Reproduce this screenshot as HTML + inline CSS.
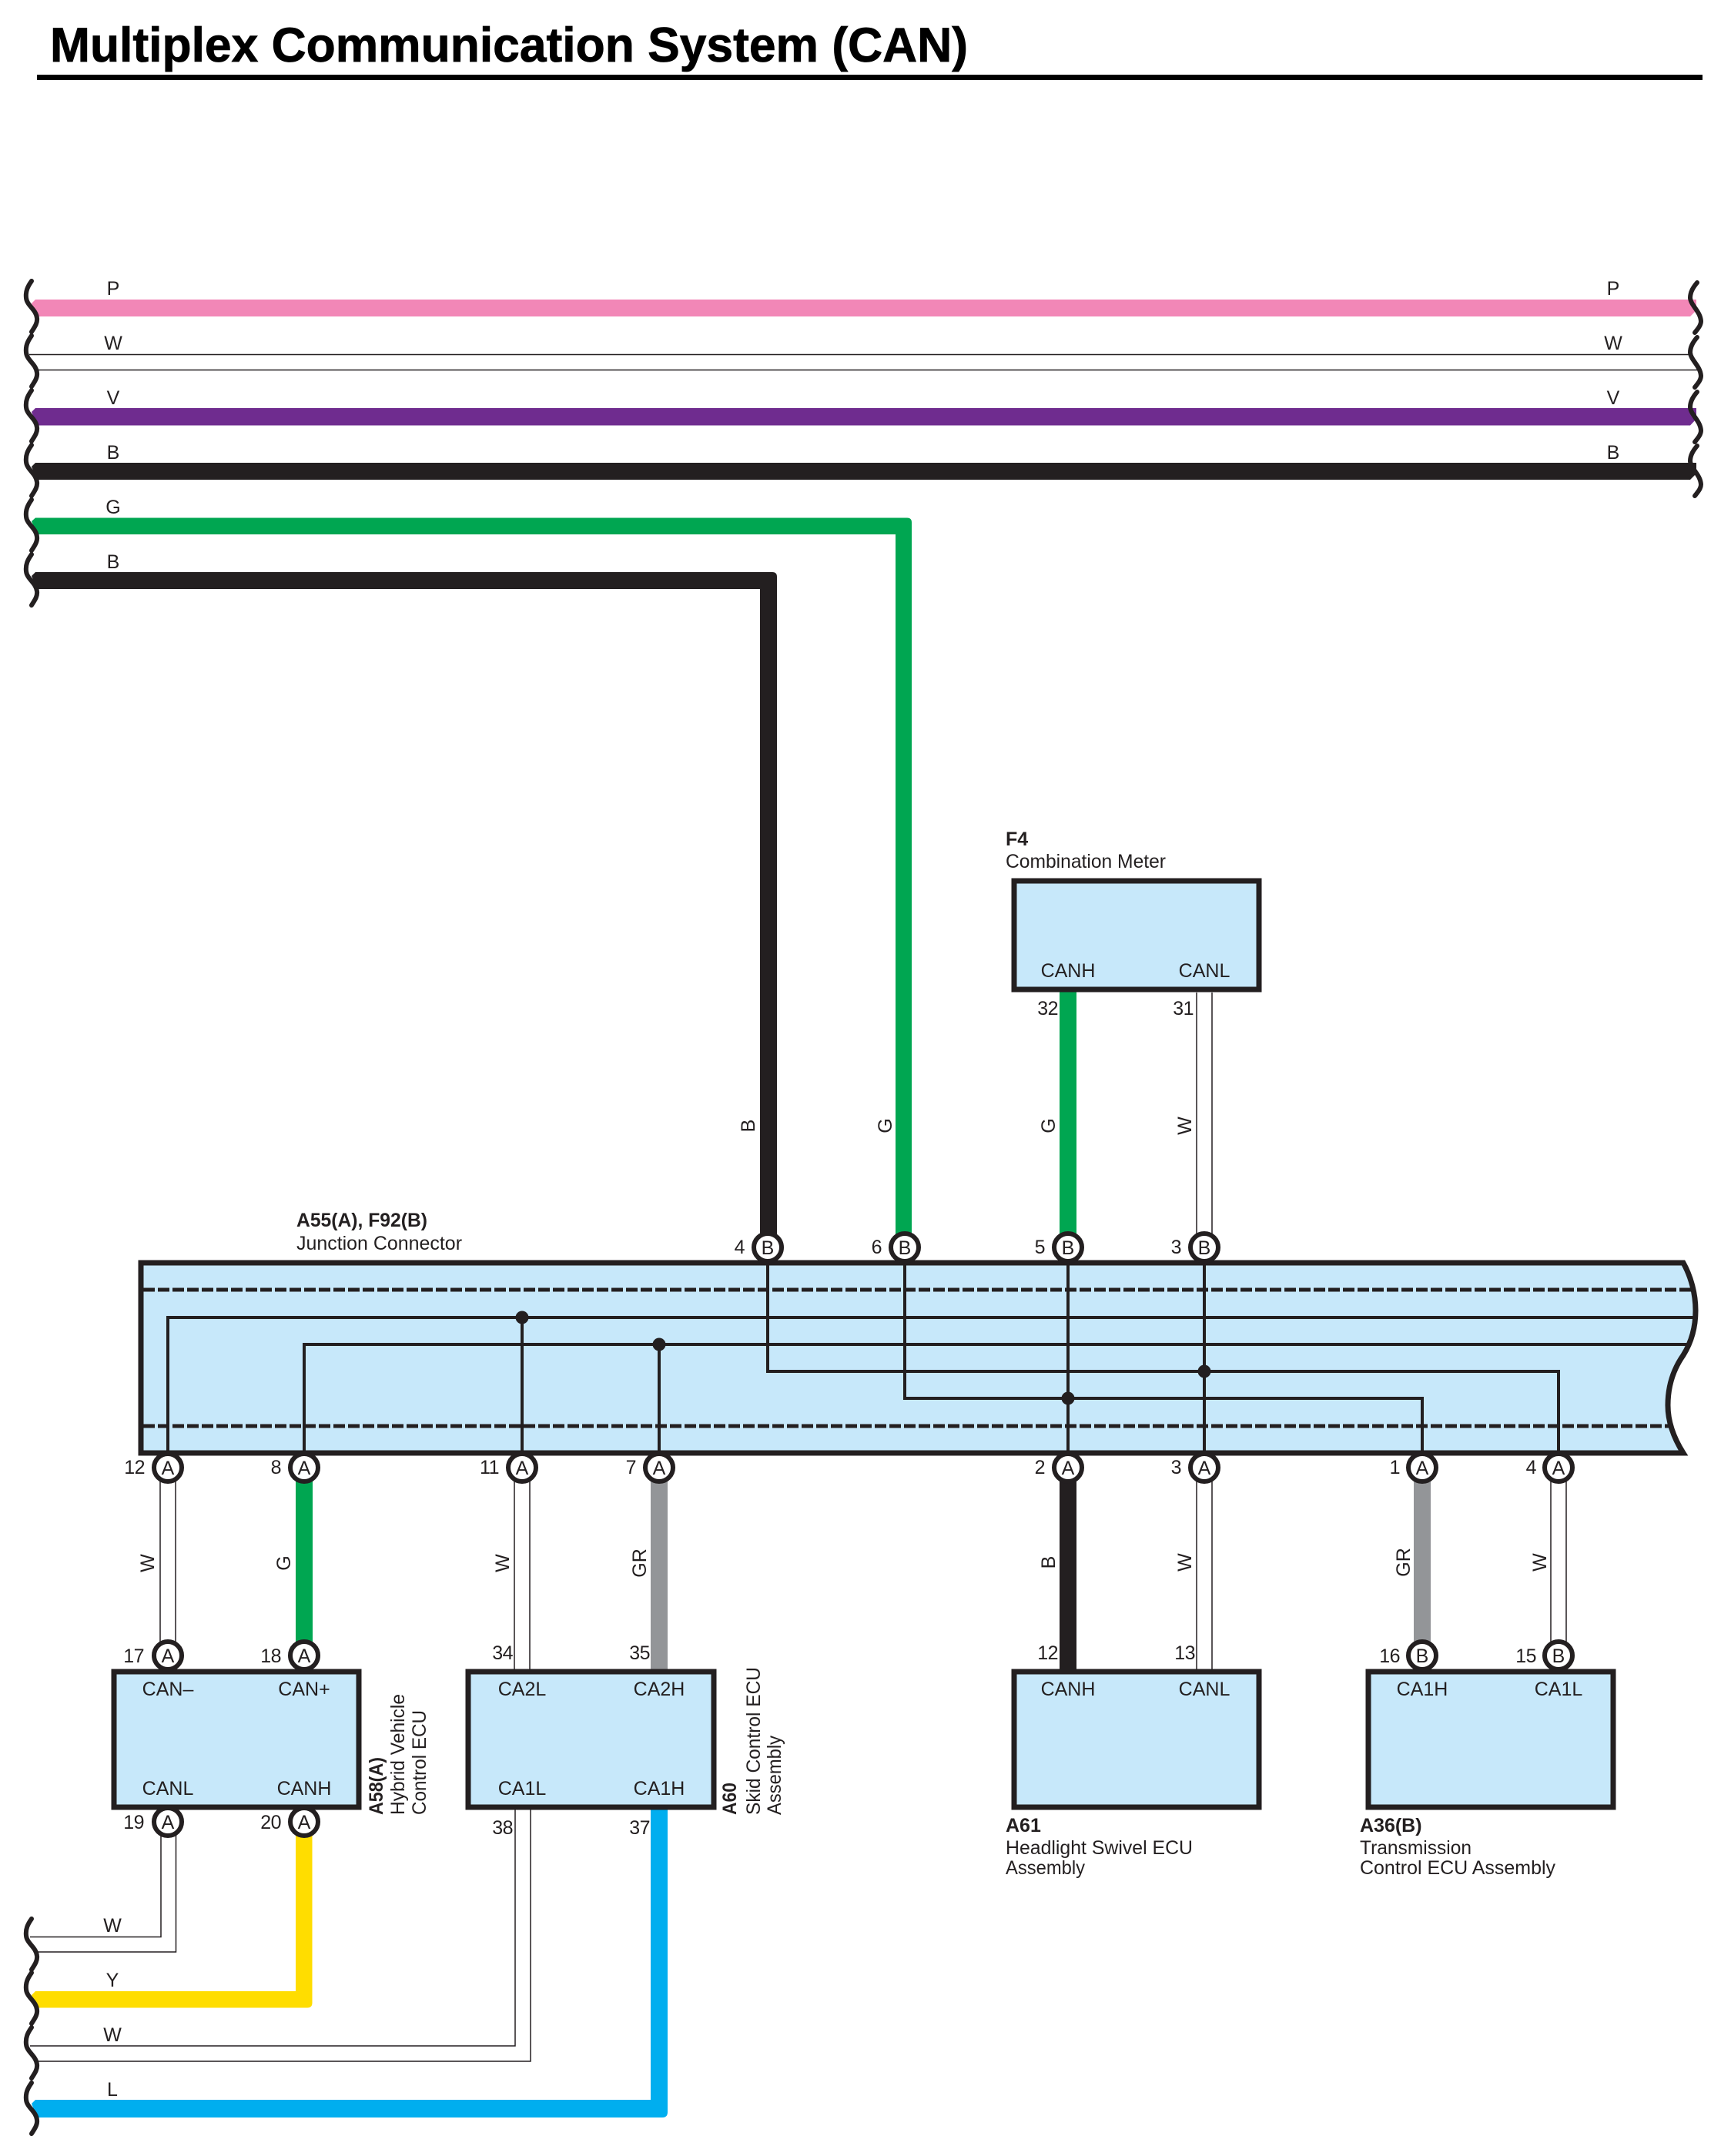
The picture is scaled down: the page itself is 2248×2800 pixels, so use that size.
<!DOCTYPE html>
<html>
<head>
<meta charset="utf-8">
<title>Multiplex Communication System (CAN)</title>
<style>
html,body{margin:0;padding:0;background:#fff}
svg{display:block}
text{font-family:"Liberation Sans",Arial,sans-serif;font-size:25px;fill:#231F20}
.b{font-weight:bold}
.m{text-anchor:middle}
.e{text-anchor:end;letter-spacing:-0.5px}
.thin{fill:none;stroke:#231F20;stroke-width:1.5}
.sq{fill:none;stroke:#231F20;stroke-width:6;stroke-linecap:round}
.box{fill:#C7E8FA;stroke:#231F20;stroke-width:7}
.in{fill:none;stroke:#231F20;stroke-width:4}
.dash{fill:none;stroke:#231F20;stroke-width:5;stroke-dasharray:15 4}
.c{fill:#fff;stroke:#231F20;stroke-width:6}
.title{font-weight:bold;font-size:63px;fill:#000;stroke:#000;stroke-width:0.8}
</style>
</head>
<body>
<svg xmlns="http://www.w3.org/2000/svg" width="2248" height="2800" viewBox="0 0 2248 2800">
<defs>
<path id="sl" d="M41 0C36 7 33 13 34 22C35 32 47 37 48 48C49 55 44 61 41 66"/>
<path id="sr" d="M2204 0C2199 6 2195 12 2195 20C2196 30 2208 37 2209 50C2209 56 2204 61 2201 65"/>
</defs>
<rect width="2248" height="2800" fill="#fff"/>

<!-- Title -->
<text x="65" y="80" class="title" textLength="1192" lengthAdjust="spacingAndGlyphs">Multiplex Communication System (CAN)</text>
<rect x="48" y="97" width="2163" height="7" fill="#000"/>

<!-- Top wires -->
<path d="M46 389H2203V403L2195 411H48L41 394Z" fill="#F287B7"/>
<path d="M38 460.500H2196M48 480.500H2205" class="thin"/>
<path d="M46 530H2203V544L2195 552.500H48L41 535Z" fill="#6F2C8F"/>
<path d="M46 601H2203V615L2195 623H48L41 606Z" fill="#231F20"/>
<path d="M46 672.500H1178Q1184 672.500 1184 678.500V1610H1163V694H48L41 677Z" fill="#00A651"/>
<path d="M46 743H1003Q1009 743 1009 749V1610H987V765H48L41 748Z" fill="#231F20"/>

<!-- Squiggles left -->
<use href="#sl" y="365" class="sq"/><use href="#sl" y="436" class="sq"/><use href="#sl" y="507" class="sq"/>
<use href="#sl" y="578" class="sq"/><use href="#sl" y="649" class="sq"/><use href="#sl" y="720" class="sq"/>
<!-- Squiggles right -->
<use href="#sr" y="367" class="sq"/><use href="#sr" y="438" class="sq"/><use href="#sr" y="509" class="sq"/><use href="#sr" y="579" class="sq"/>

<!-- Top wire labels -->
<text x="147" y="383" class="m">P</text><text x="147" y="454" class="m">W</text><text x="147" y="525" class="m">V</text>
<text x="147" y="596" class="m">B</text><text x="147" y="667" class="m">G</text><text x="147" y="738" class="m">B</text>
<text x="2095" y="383" class="m">P</text><text x="2095" y="454" class="m">W</text><text x="2095" y="525" class="m">V</text><text x="2095" y="596" class="m">B</text>

<!-- F4 wires -->
<rect x="1376" y="1285" width="22" height="325" fill="#00A651"/>
<path d="M1554 1289V1605M1574 1289V1605" class="thin"/>

<!-- F4 box -->
<rect x="1317" y="1144" width="318" height="141" class="box"/>
<text x="1306" y="1098" class="b">F4</text>
<text x="1306" y="1127" textLength="208" lengthAdjust="spacingAndGlyphs">Combination Meter</text>
<text x="1387" y="1269" class="m">CANH</text><text x="1564" y="1269" class="m">CANL</text>
<text x="1374" y="1318" class="e">32</text><text x="1550" y="1318" class="e">31</text>
<text transform="rotate(-90 1370 1462)" x="1370" y="1462" class="m">G</text>
<text transform="rotate(-90 1547 1462)" x="1547" y="1462" class="m">W</text>
<text transform="rotate(-90 980 1462)" x="980" y="1462" class="m">B</text>
<text transform="rotate(-90 1158 1462)" x="1158" y="1462" class="m">G</text>

<!-- Junction connector -->
<text x="385" y="1593" class="b" textLength="170" lengthAdjust="spacingAndGlyphs">A55(A), F92(B)</text>
<text x="385" y="1623" textLength="215" lengthAdjust="spacingAndGlyphs">Junction Connector</text>
<path d="M183 1640H2186C2196 1658 2202 1680 2202 1702C2202 1724 2196 1744 2186 1760C2172 1780 2166 1802 2166 1825C2166 1848 2174 1868 2186 1887H183Z" class="box" stroke-linejoin="miter"/>
<path d="M186 1675H2197M186 1852H2168" class="dash"/>
<path d="M218 1887V1711H2200M395 1887V1746H2192M678 1711V1887M856 1746V1887M997 1640V1781H2024V1887M1175 1640V1816H1847V1887M1387 1640V1887M1564 1640V1887" class="in"/>
<circle cx="678" cy="1711" r="8.500" fill="#231F20"/><circle cx="856" cy="1746" r="8.500" fill="#231F20"/>
<circle cx="1564" cy="1781" r="8.500" fill="#231F20"/><circle cx="1387" cy="1816" r="8.500" fill="#231F20"/>

<!-- Wires between junction and ECUs -->
<path d="M208 1920V2135M228 1920V2135" class="thin"/>
<rect x="384" y="1920" width="22" height="215" fill="#00A651"/>
<path d="M668 1920V2168M688 1920V2168" class="thin"/>
<rect x="845" y="1920" width="22" height="248" fill="#939598"/>
<rect x="1376" y="1920" width="22" height="248" fill="#231F20"/>
<path d="M1554 1920V2168M1574 1920V2168" class="thin"/>
<rect x="1836" y="1920" width="22" height="215" rx="4" fill="#939598"/>
<path d="M2014 1920V2135M2034 1920V2135" class="thin"/>

<!-- Bottom wires -->
<path d="M209 2380V2515.500H39M228.500 2380V2535H48" class="thin"/>
<path d="M384 2380H405.500V2601Q405.500 2607.500 399 2607.500H48L41 2591L46 2586H384Z" fill="#FFDD00"/>
<path d="M669 2345V2657H39M689 2345V2677H48" class="thin"/>
<path d="M845 2345H867V2743Q867 2750 860 2750H48L41 2732L46 2727H845Z" fill="#00AEEF"/>
<use href="#sl" y="2492" class="sq"/><use href="#sl" y="2562" class="sq"/><use href="#sl" y="2633" class="sq"/><use href="#sl" y="2705" class="sq"/>
<text x="146" y="2509" class="m">W</text><text x="146" y="2580" class="m">Y</text><text x="146" y="2651" class="m">W</text><text x="146" y="2722" class="m">L</text>

<!-- Rotated wire labels -->
<text transform="rotate(-90 200 2030)" x="200" y="2030" class="m">W</text>
<text transform="rotate(-90 377 2030)" x="377" y="2030" class="m">G</text>
<text transform="rotate(-90 661 2030)" x="661" y="2030" class="m">W</text>
<text transform="rotate(-90 839 2030)" x="839" y="2030" class="m">GR</text>
<text transform="rotate(-90 1370 2029)" x="1370" y="2029" class="m">B</text>
<text transform="rotate(-90 1547 2029)" x="1547" y="2029" class="m">W</text>
<text transform="rotate(-90 1831 2029)" x="1831" y="2029" class="m">GR</text>
<text transform="rotate(-90 2008 2029)" x="2008" y="2029" class="m">W</text>

<!-- ECU boxes -->
<rect x="148" y="2171" width="318" height="176" class="box"/>
<rect x="608" y="2171" width="319" height="176" class="box"/>
<rect x="1317" y="2171" width="318" height="176" class="box"/>
<rect x="1777" y="2171" width="318" height="176" class="box"/>

<text x="218" y="2202" class="m">CAN–</text><text x="395" y="2202" class="m">CAN+</text>
<text x="218" y="2331" class="m">CANL</text><text x="395" y="2331" class="m">CANH</text>
<text x="678" y="2202" class="m">CA2L</text><text x="856" y="2202" class="m">CA2H</text>
<text x="678" y="2331" class="m">CA1L</text><text x="856" y="2331" class="m">CA1H</text>
<text x="1387" y="2202" class="m">CANH</text><text x="1564" y="2202" class="m">CANL</text>
<text x="1847" y="2202" class="m">CA1H</text><text x="2024" y="2202" class="m">CA1L</text>

<!-- ECU captions -->
<text transform="rotate(-90 497 2357)" x="497" y="2357" class="b" textLength="75" lengthAdjust="spacingAndGlyphs">A58(A)</text>
<text transform="rotate(-90 525 2357)" x="525" y="2357" textLength="157" lengthAdjust="spacingAndGlyphs">Hybrid Vehicle</text>
<text transform="rotate(-90 553 2357)" x="553" y="2357" textLength="136" lengthAdjust="spacingAndGlyphs">Control ECU</text>
<text transform="rotate(-90 956 2357)" x="956" y="2357" class="b" textLength="42" lengthAdjust="spacingAndGlyphs">A60</text>
<text transform="rotate(-90 987 2357)" x="987" y="2357" textLength="192" lengthAdjust="spacingAndGlyphs">Skid Control ECU</text>
<text transform="rotate(-90 1014 2357)" x="1014" y="2357" textLength="103" lengthAdjust="spacingAndGlyphs">Assembly</text>
<text x="1306" y="2379" class="b">A61</text>
<text x="1306" y="2408" textLength="243" lengthAdjust="spacingAndGlyphs">Headlight Swivel ECU</text>
<text x="1306" y="2434" textLength="103" lengthAdjust="spacingAndGlyphs">Assembly</text>
<text x="1766" y="2379" class="b">A36(B)</text>
<text x="1766" y="2408" textLength="145" lengthAdjust="spacingAndGlyphs">Transmission</text>
<text x="1766" y="2434" textLength="254" lengthAdjust="spacingAndGlyphs">Control ECU Assembly</text>

<!-- Connector circles: top row of junction -->
<circle cx="997" cy="1620" r="18" class="c"/><text x="997" y="1629" class="m">B</text>
<circle cx="1175" cy="1620" r="18" class="c"/><text x="1175" y="1629" class="m">B</text>
<circle cx="1387" cy="1620" r="18" class="c"/><text x="1387" y="1629" class="m">B</text>
<circle cx="1564" cy="1620" r="18" class="c"/><text x="1564" y="1629" class="m">B</text>
<text x="967" y="1628" class="e">4</text><text x="1145" y="1628" class="e">6</text><text x="1357" y="1628" class="e">5</text><text x="1534" y="1628" class="e">3</text>

<!-- Bottom row of junction -->
<circle cx="218" cy="1906" r="18" class="c"/><text x="218" y="1915" class="m">A</text>
<circle cx="395" cy="1906" r="18" class="c"/><text x="395" y="1915" class="m">A</text>
<circle cx="678" cy="1906" r="18" class="c"/><text x="678" y="1915" class="m">A</text>
<circle cx="856" cy="1906" r="18" class="c"/><text x="856" y="1915" class="m">A</text>
<circle cx="1387" cy="1906" r="18" class="c"/><text x="1387" y="1915" class="m">A</text>
<circle cx="1564" cy="1906" r="18" class="c"/><text x="1564" y="1915" class="m">A</text>
<circle cx="1847" cy="1906" r="18" class="c"/><text x="1847" y="1915" class="m">A</text>
<circle cx="2024" cy="1906" r="18" class="c"/><text x="2024" y="1915" class="m">A</text>
<text x="188" y="1914" class="e">12</text><text x="365" y="1914" class="e">8</text><text x="648" y="1914" class="e">11</text><text x="826" y="1914" class="e">7</text>
<text x="1357" y="1914" class="e">2</text><text x="1534" y="1914" class="e">3</text><text x="1818" y="1914" class="e">1</text><text x="1995" y="1914" class="e">4</text>

<!-- ECU circles -->
<circle cx="218" cy="2150" r="18" class="c"/><text x="218" y="2159" class="m">A</text>
<circle cx="395" cy="2150" r="18" class="c"/><text x="395" y="2159" class="m">A</text>
<circle cx="1847" cy="2150" r="18" class="c"/><text x="1847" y="2159" class="m">B</text>
<circle cx="2024" cy="2150" r="18" class="c"/><text x="2024" y="2159" class="m">B</text>
<circle cx="218" cy="2366" r="18" class="c"/><text x="218" y="2375" class="m">A</text>
<circle cx="395" cy="2366" r="18" class="c"/><text x="395" y="2375" class="m">A</text>
<text x="187" y="2159" class="e">17</text><text x="365" y="2159" class="e">18</text>
<text x="666" y="2155" class="e">34</text><text x="844" y="2155" class="e">35</text>
<text x="187" y="2375" class="e">19</text><text x="365" y="2375" class="e">20</text>
<text x="666" y="2382" class="e">38</text><text x="844" y="2382" class="e">37</text>
<text x="1374" y="2155" class="e">12</text><text x="1552" y="2155" class="e">13</text>
<text x="1818" y="2159" class="e">16</text><text x="1995" y="2159" class="e">15</text>
</svg>
</body>
</html>
